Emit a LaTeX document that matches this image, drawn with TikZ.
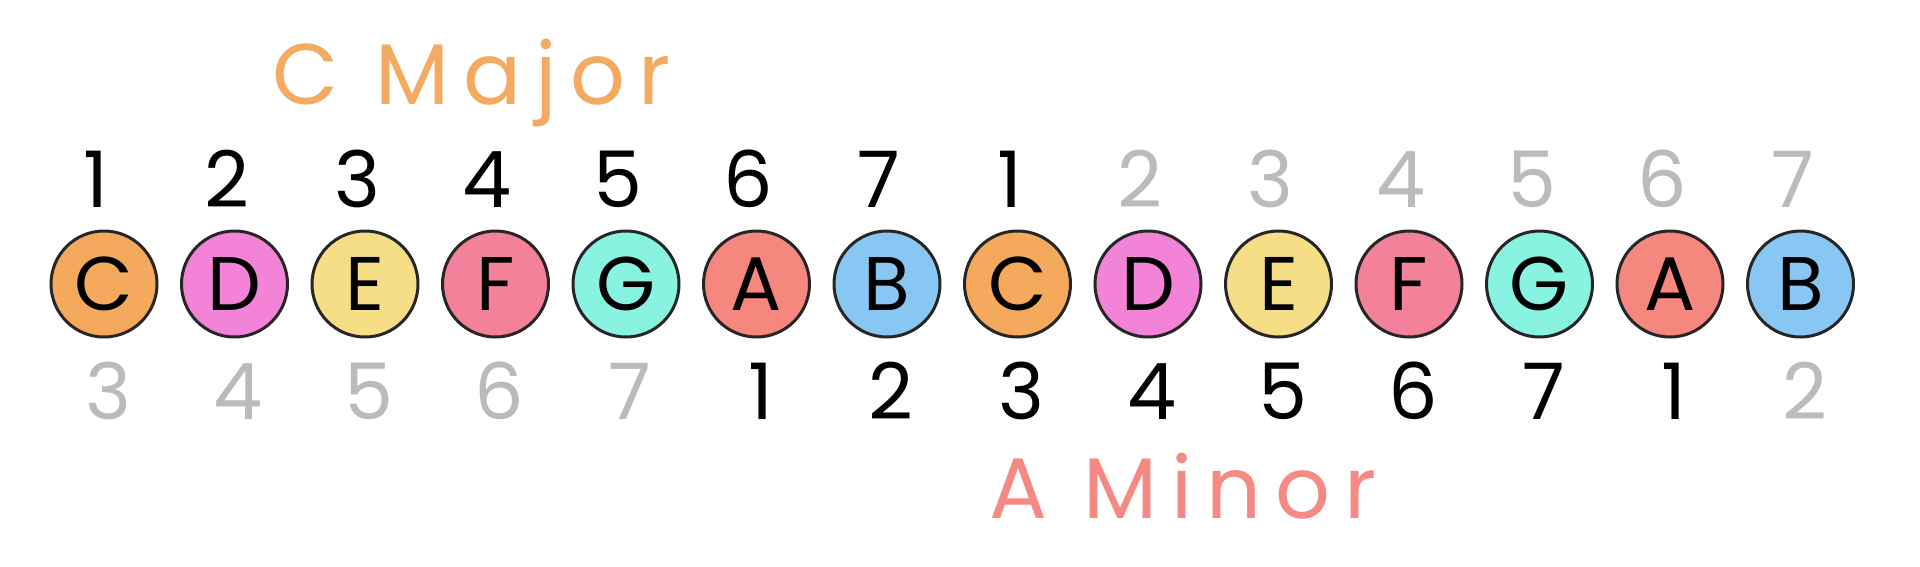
\documentclass[tikz,border=0pt]{standalone}
\usepackage{fontspec}
\setmainfont{Poppins}
\newfontfamily\hand[LetterSpace=16]{Poppins}
\definecolor{cC}{HTML}{F5A95D}
\definecolor{cD}{HTML}{F383D7}
\definecolor{cE}{HTML}{F6DE86}
\definecolor{cF}{HTML}{F3819A}
\definecolor{cG}{HTML}{88F3E0}
\definecolor{cA}{HTML}{F5877F}
\definecolor{cB}{HTML}{88C6F3}
\definecolor{dimnum}{HTML}{BBBBBB}
\definecolor{majcol}{HTML}{F5AA62}
\definecolor{mincol}{HTML}{F58A85}
\tikzset{
  note/.style={circle, draw=black!85, line width=3pt, minimum size=106pt, inner sep=0pt,
    font=\fontsize{76}{76}\selectfont},
  deg/.style={anchor=base, inner sep=0pt, font=\fontsize{78}{78}\selectfont},
  title/.style={anchor=base west, inner sep=0pt, font=\hand\fontsize{86}{86}\selectfont}
}
\begin{document}
\begin{tikzpicture}[x=1pt,y=-1pt]
\useasboundingbox (0,0) rectangle (1920,566);
\fill[white] (0,0) rectangle (1920,566);
\node[title, text=majcol] (maj) at (272,104) {C Major};
\node[title, text=mincol] (min) at (989,518) {A Minor};
\foreach \i/\l/\c/\t/\tc/\b/\bc in {
  1/C/cC/1/black/3/dimnum,
  2/D/cD/2/black/4/dimnum,
  3/E/cE/3/black/5/dimnum,
  4/F/cF/4/black/6/dimnum,
  5/G/cG/5/black/7/dimnum,
  6/A/cA/6/black/1/black,
  7/B/cB/7/black/2/black,
  8/C/cC/1/black/3/black,
  9/D/cD/2/dimnum/4/black,
  10/E/cE/3/dimnum/5/black,
  11/F/cF/4/dimnum/6/black,
  12/G/cG/5/dimnum/7/black,
  13/A/cA/6/dimnum/1/black,
  14/B/cB/7/dimnum/2/dimnum}{
  \pgfmathsetmacro{\xx}{104+130.5*(\i-1)}
  \node[note, fill=\c] (n\i) at (\xx,284) {\l};
  \node[deg, text=\tc] (t\i) at (\xx-8,207) {\t};
  \node[deg, text=\bc] (b\i) at (\xx+4,419) {\b};
}
\end{tikzpicture}
\end{document}
